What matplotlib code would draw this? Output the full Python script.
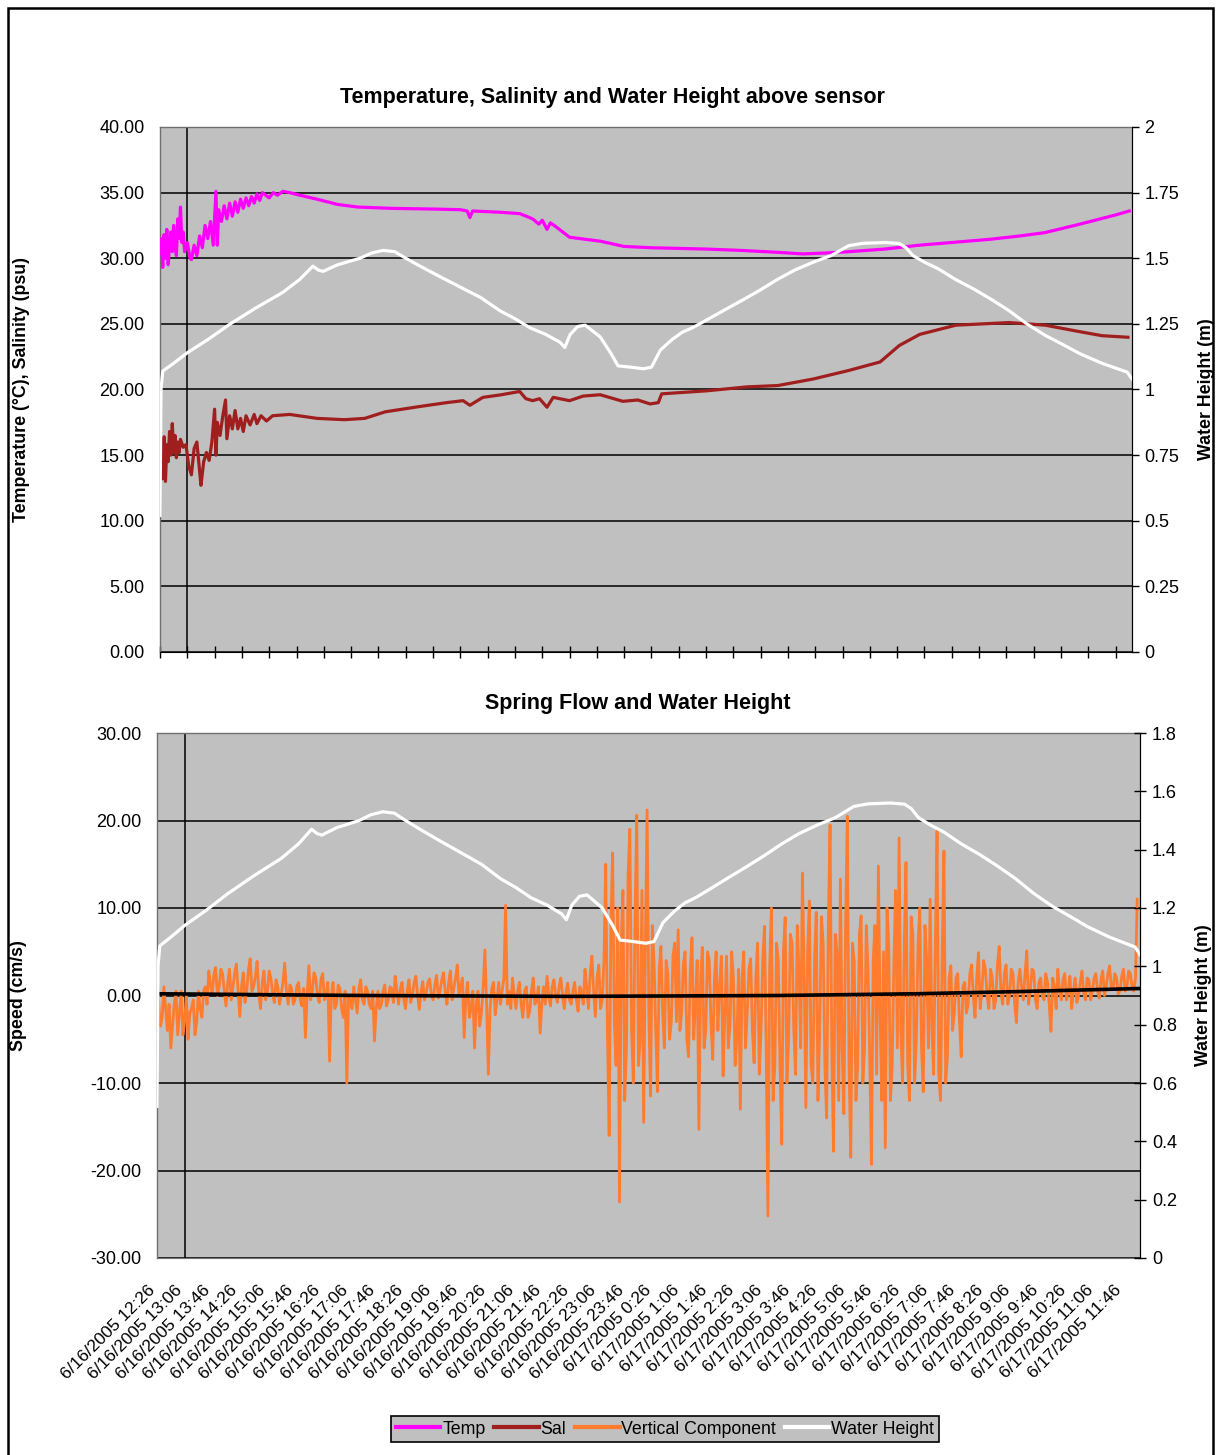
import numpy as np
import matplotlib
matplotlib.use('Agg')
from matplotlib import pyplot as plt
from matplotlib.lines import Line2D
from matplotlib.patches import Rectangle
from matplotlib.ticker import FuncFormatter, MultipleLocator
import matplotlib.transforms as mtrans

plt.rcParams['font.family'] = ['Liberation Sans', 'DejaVu Sans']

# x axis: minutes after 6/16/2005 12:26, labels every 40 minutes
tick_labels = [
    '6/16/2005 12:26', '6/16/2005 13:06', '6/16/2005 13:46', '6/16/2005 14:26',
    '6/16/2005 15:06', '6/16/2005 15:46', '6/16/2005 16:26', '6/16/2005 17:06',
    '6/16/2005 17:46', '6/16/2005 18:26', '6/16/2005 19:06', '6/16/2005 19:46',
    '6/16/2005 20:26', '6/16/2005 21:06', '6/16/2005 21:46', '6/16/2005 22:26',
    '6/16/2005 23:06', '6/16/2005 23:46', '6/17/2005 0:26', '6/17/2005 1:06',
    '6/17/2005 1:46', '6/17/2005 2:26', '6/17/2005 3:06', '6/17/2005 3:46',
    '6/17/2005 4:26', '6/17/2005 5:06', '6/17/2005 5:46', '6/17/2005 6:26',
    '6/17/2005 7:06', '6/17/2005 7:46', '6/17/2005 8:26', '6/17/2005 9:06',
    '6/17/2005 9:46', '6/17/2005 10:26', '6/17/2005 11:06', '6/17/2005 11:46',
]
tick_step = 40
t_end = 1424

# temperature (deg C)
temp_t = [0, 2, 4, 6, 8, 10, 12, 14, 16, 18, 20, 22, 24, 26, 28, 30, 32, 34, 36, 40,
          44, 46, 50, 54, 58, 62, 66, 70, 74, 78, 82, 84, 86, 90, 94, 98, 102, 106, 110, 114,
          118, 122, 126, 130, 134, 138, 142, 146, 150, 160, 166, 172, 180, 190, 205, 230, 260, 290, 340, 400,
          440, 450, 454, 458, 500, 527, 546, 555, 560, 567, 572, 580, 600, 645, 680, 720, 801, 850, 905, 942,
          975, 1009, 1062, 1113, 1160, 1217, 1260, 1296, 1340, 1374, 1400, 1420]
temp_v = [30.4, 31.5, 29.3, 31.8, 30.0, 32.2, 29.5, 31.0, 32.0, 30.5, 32.5, 31.0, 30.2, 33.0, 31.5, 33.9, 31.2, 32.0, 30.5, 31.2,
          30.0, 29.9, 31.0, 30.2, 31.7, 30.8, 32.5, 31.5, 32.8, 31.0, 35.1, 31.0, 33.7, 32.8, 34.0, 33.0, 34.2, 33.2, 34.3, 33.5,
          34.5, 33.8, 34.6, 34.0, 34.7, 34.2, 34.9, 34.4, 35.0, 34.6, 35.0, 34.8, 35.1, 35.0, 34.8, 34.5, 34.1, 33.9, 33.8, 33.75,
          33.7, 33.6, 33.1, 33.6, 33.5, 33.4, 33.0, 32.6, 32.9, 32.2, 32.7, 32.4, 31.6, 31.3, 30.9, 30.8, 30.7, 30.6, 30.45, 30.33,
          30.4, 30.5, 30.7, 31.0, 31.2, 31.45, 31.7, 31.95, 32.5, 32.95, 33.3, 33.6]

# salinity (psu)
sal_t = [0, 2, 4, 6, 8, 10, 12, 14, 16, 18, 20, 22, 24, 26, 28, 30, 34, 38, 42, 46,
         50, 54, 58, 60, 64, 68, 72, 76, 80, 82, 84, 88, 92, 96, 98, 102, 106, 110, 114, 118,
         122, 126, 132, 138, 142, 148, 156, 165, 190, 230, 270, 300, 330, 380, 420, 444, 454, 473, 500, 527,
         536, 546, 556, 567, 576, 600, 620, 645, 678, 700, 718, 730, 735, 801, 860, 905, 957, 1009, 1055, 1083,
         1113, 1166, 1244, 1297, 1348, 1380, 1418]
sal_v = [14.0, 16.0, 13.2, 16.4, 13.0, 15.8, 14.5, 16.8, 15.0, 17.4, 15.2, 16.5, 14.8, 16.0, 15.2, 16.2, 15.6, 15.8, 14.2, 13.5,
         15.5, 16.0, 13.8, 12.7, 14.5, 15.2, 14.6, 16.0, 18.5, 15.0, 17.5, 16.5, 18.0, 19.2, 16.25, 18.0, 17.0, 18.4, 17.0, 17.8,
         16.8, 18.0, 17.3, 18.1, 17.4, 18.0, 17.6, 18.0, 18.1, 17.8, 17.7, 17.8, 18.3, 18.7, 19.0, 19.15, 18.8, 19.4, 19.6, 19.85,
         19.3, 19.15, 19.3, 18.65, 19.4, 19.15, 19.5, 19.6, 19.1, 19.2, 18.9, 19.0, 19.67, 19.9, 20.2, 20.3, 20.8, 21.45, 22.1, 23.35,
         24.2, 24.9, 25.1, 24.9, 24.4, 24.1, 23.98]

# water height above sensor (m)
wh_t = [0, 1.5, 4, 20, 40, 70, 103, 140, 180, 205, 224, 232, 239, 260, 293, 310, 327, 344, 360, 381,
        410, 440, 470, 498, 520, 542, 565, 586, 593, 601, 612, 623, 645, 660, 671, 690, 708, 720, 733, 750,
        765, 780, 801, 825, 853, 880, 905, 930, 957, 983, 1009, 1030, 1062, 1083, 1093, 1103, 1120, 1140, 1165, 1192,
        1220, 1244, 1270, 1297, 1320, 1348, 1380, 1417, 1424]
wh_v = [0.52, 1.0, 1.07, 1.10, 1.14, 1.19, 1.25, 1.31, 1.37, 1.42, 1.47, 1.455, 1.45, 1.475, 1.50, 1.52, 1.53, 1.525, 1.50, 1.47,
        1.43, 1.39, 1.35, 1.30, 1.27, 1.235, 1.21, 1.18, 1.16, 1.21, 1.24, 1.245, 1.20, 1.14, 1.09, 1.085, 1.079, 1.085, 1.15, 1.19,
        1.218, 1.235, 1.265, 1.30, 1.34, 1.38, 1.42, 1.455, 1.485, 1.51, 1.548, 1.557, 1.56, 1.556, 1.54, 1.51, 1.485, 1.46, 1.42, 1.383,
        1.34, 1.30, 1.25, 1.206, 1.175, 1.136, 1.10, 1.066, 1.04]

# vertical flow component (cm/s): readings on the 5-minute marks ...
vel_step = 5
vel_v = [
    2.5, -3.5, 1.0, -4.0, -6.0, -1.0, -4.5, 0.5, -3.0, -5.0,
    -1.5, -4.5, 0.5, -2.5, 1.0, 2.8, 0.2, 3.2, 1.0, 2.5,
    -1.2, 3.0, 1.0, 3.6, -2.4, 2.6, 0.6, 4.2, 1.0, 3.9,
    -1.5, 2.8, 0.5, 2.0, -0.8, 1.0, 0.2, 3.7, -1.0, 0.8,
    -0.5, 1.5, -1.2, -4.8, 3.4, 0.5, 2.0, -0.8, 2.5, 0.0,
    -7.5, 1.5, -1.0, 0.8, -2.5, -10.0, -0.5, 1.0, -2.0, 1.8,
    -1.0, 0.5, -1.5, -5.2, 0.5, -1.0, 1.2, -0.5, 0.8, 2.2,
    -1.0, 1.5, -1.5, 1.8, 0.0, 2.2, -1.6, 1.6, 0.3, 1.9,
    -0.5, 2.3, 0.5, 2.6, -1.0, 2.8, 0.8, 3.5, 1.0, -4.8,
    1.5, -1.5, -6.0, 0.5, -2.0, 5.2, -9.0, 0.8, -2.2, 1.5,
    0.5, 10.3, 0.5, 2.0, -1.5, 1.5, -2.5, 1.0, -1.8, 2.0,
    -0.5, -4.3, 1.0, 2.2, -1.2, 1.8, -0.8, 2.0, -1.5, 1.4,
    -1.0, 1.5, -1.8, 0.5, 3.0, -1.5, 4.5, -2.4, 3.5, -0.5,
    15.0, -16.0, 16.3, -8.0, -23.6, 12.0, -6.0, 19.0, -10.0, 20.6,
    -5.0, -14.5, 21.2, -11.5, 4.0, -11.0, 5.6, -6.0, 2.5, -3.0,
    6.0, 7.5, -2.0, 5.0, -7.0, 6.6, -1.0, -15.3, 5.5, -4.0,
    4.0, -7.3, 5.0, 1.0, -9.2, 4.5, -3.5, 2.0, -5.0, -13.0,
    5.0, -2.0, 4.2, -7.7, 6.0, -4.0, 7.9, -25.2, 10.0, -8.0,
    4.0, -17.0, 8.9, -5.0, 6.0, -9.0, 3.0, 14.0, -12.8, 10.8,
    -10.0, 9.5, -4.0, 6.0, -14.0, 19.5, -17.8, 5.0, 13.3, -13.5,
    20.5, -18.5, 4.0, -8.0, 9.1, -6.0, 3.0, -19.3, 8.0, 14.8,
    -12.0, -17.4, 6.0, -8.0, 12.0, 18.0, -10.0, 15.2, -12.0, 7.0,
    -5.0, 10.0, -11.0, 4.0, 11.0, -9.0, 18.8, -12.0, 16.5, -7.0,
    3.4, -2.0, 2.5, -7.0, 1.5, -1.0, 3.5, -2.5, 4.9, 0.5,
    3.0, -1.5, 2.0, -0.5, 5.6, -1.0, 3.5, 0.0, 2.5, -3.1,
    3.0, -0.5, 5.1, 0.5, 2.8, -1.5, 2.0, -0.5, 1.5, -4.1,
    1.0, 3.0, -0.5, 2.5, 0.5, -1.5, 2.0, 0.0, 2.8, -0.5,
    1.8, 0.5, 2.5, -0.3, 2.8, 1.0, 3.4, 0.8, 2.0, 0.5,
    3.0, 1.0, 2.5, 0.5, 11.0,
]
# ... and the readings half way between them
vel_mid = [
    -1.0, -2.5, -1.5, -1.0, -3.5, 0.5, -2.0, -4.5, 0.0, -2.0,
    -0.5, -3.0, -1.5, 0.5, -1.0, 1.2, 2.5, 0.0, 3.0, 0.5,
    1.5, -0.5, 2.5, 0.5, 1.0, -0.8, 3.0, 0.5, 2.2, 0.2,
    1.5, -0.5, 2.8, 0.2, 1.8, -1.0, 1.5, 0.5, 1.2, -1.0,
    1.0, -0.5, 0.8, 0.0, -0.5, 2.6, 0.0, 1.8, -0.5, 1.5,
    0.0, -1.5, 1.2, -1.5, 0.5, 0.0, -1.5, -0.5, 0.8, -0.5,
    1.0, -1.0, 0.5, -1.5, -1.5, 0.5, -1.2, 1.0, -0.8, 0.5,
    0.8, -0.5, 0.5, -0.8, 1.5, 0.0, 0.5, -0.5, 1.5, 0.0,
    1.2, -0.3, 1.8, 0.5, 1.5, -0.5, 2.0, 0.0, 2.0, 0.0,
    -2.5, 0.5, -1.0, -3.5, 1.0, -1.0, -1.5, 1.5, -0.5, -1.0,
    2.0, -1.0, -1.5, 0.0, 0.5, -1.0, 0.5, -2.5, 0.5, -1.0,
    1.0, -1.0, -1.0, 0.0, 1.0, 0.0, 1.0, 0.0, 0.5, -0.5,
    0.5, -0.5, 1.0, -1.0, 1.0, 2.5, 0.5, 2.0, -1.5, 4.0,
    -4.0, 8.0, -3.0, 10.0, 6.0, -12.0, 14.0, -4.0, 9.0, -8.0,
    12.0, 6.0, -2.0, 8.0, -4.0, 3.0, -2.0, 4.0, -5.0, 4.5,
    -3.0, -4.0, 3.5, -5.0, 3.0, -5.0, 4.0, 2.0, -6.0, 5.0,
    -3.0, 2.0, -4.0, 4.5, -2.0, -6.0, 5.0, -8.0, 3.0, 2.0,
    -6.0, 3.0, -4.0, 2.0, -9.0, 4.0, -6.0, 3.0, -12.0, 6.0,
    -8.0, 5.0, -10.0, 7.0, -4.0, 8.0, -6.0, 2.0, 5.0, -8.0,
    4.0, -12.0, 9.0, -8.0, 8.0, -6.0, 7.0, -12.0, -6.0, 8.0,
    -8.0, 6.0, -12.0, 7.0, -10.0, 8.0, -7.0, 4.0, -9.0, -2.0,
    5.0, 10.0, -12.0, 4.0, -6.0, -4.0, 6.0, -8.0, 9.0, -10.0,
    6.0, -6.0, 8.0, -6.0, -4.0, 6.0, -9.0, 5.0, -10.0, 2.0,
    -4.0, 2.0, -3.0, 1.0, -2.0, 2.5, 0.0, 2.0, -1.5, 4.0,
    0.0, 3.0, -1.5, 3.5, 0.5, 2.5, -1.0, 3.0, -1.0, 1.5,
    1.0, 2.5, -1.0, 3.0, -0.5, 1.5, 0.0, 2.5, -1.0, 2.0,
    -1.5, 0.5, 1.8, -0.5, 2.2, 0.5, -0.8, 1.5, 0.2, 2.0,
    -0.5, 2.0, 0.5, 1.8, 0.0, 2.5, 0.8, 2.5, 0.2, 2.2,
    0.5, 2.8, 1.0, 2.0,
]

# black trend line through the flow data
trend_t = [0, 300, 600, 900, 1100, 1250, 1424]
trend_v = [0.2, 0.0, -0.1, 0.0, 0.2, 0.45, 0.8]

TEMP_C = '#FF00FF'
SAL_C = '#A01E1E'
VEL_C = '#FF7B2E'
WH_C = '#FFFFFF'
PLOT_BG = '#C0C0C0'

W, H = 1219, 1455
fig = plt.figure(figsize=(W / 100, H / 100), dpi=100)
fig.patch.set_facecolor('white')
fig.patches.append(Rectangle((8 / W, -0.01), (1213 - 8) / W, 1 - 8 / H + 0.01, transform=fig.transFigure,
                             fill=False, edgecolor='black', linewidth=1.8))

ax1 = fig.add_axes([160 / W, 1 - 652 / H, 972 / W, 525 / H])
ax3 = fig.add_axes([157 / W, 1 - 1258 / H, 983 / W, 525 / H])

tick_pos = [i * tick_step for i in range(len(tick_labels))]

for ax in (ax1, ax3):
    ax.set_facecolor(PLOT_BG)
    ax.set_xlim(0, t_end)
    ax.set_xticks(tick_pos)
    ax.yaxis.grid(True, color='black', linewidth=1.1)
    ax.set_axisbelow(True)
    ax.axvline(tick_step, color='black', linewidth=1.1, zorder=1.5)
    for s in ('top', 'left'):
        ax.spines[s].set_color('#707070')
        ax.spines[s].set_linewidth(1)
    ax.spines['right'].set_color('black')
    ax.tick_params(axis='y', length=0, pad=11, labelsize=13)
    ax.yaxis.set_major_formatter(FuncFormatter(lambda v, p: '%.2f' % v))

# --- top chart
ax1.set_ylim(0, 40)
ax1.yaxis.set_major_locator(MultipleLocator(5))
ax1.plot(temp_t, temp_v, color=TEMP_C, linewidth=2.3, zorder=3)
ax1.plot(sal_t, sal_v, color=SAL_C, linewidth=2.3, zorder=3)
ax1.set_xticklabels([])
ax1.tick_params(axis='x', direction='inout', length=8, width=1)
ax1.spines['bottom'].set_color('black')
ax1.set_ylabel('Temperature (°C), Salinity (psu)', fontsize=12.8, fontweight='bold')
ax1.yaxis.set_label_coords((30 - 160) / 972, 0.5)
ax1.set_title('Temperature, Salinity and Water Height above sensor', fontsize=15.5, fontweight='bold',
              x=(612 - 160) / 972, pad=17)

ax2 = ax1.twinx()
ax2.set_ylim(0, 2)
ax2.yaxis.set_major_locator(MultipleLocator(0.25))
ax2.yaxis.set_major_formatter(FuncFormatter(lambda v, p: '%g' % v))
ax2.plot(wh_t, wh_v, color=WH_C, linewidth=2.3)
ax2.tick_params(axis='y', direction='out', length=5, width=1, pad=4, labelsize=13)
ax2.set_ylabel('Water Height (m)', fontsize=12.8, fontweight='bold')
ax2.yaxis.set_label_coords((1198 - 160) / 972, 0.5)
for s in ('top', 'left', 'bottom'):
    ax2.spines[s].set_visible(False)

# --- bottom chart
vel_t = [i * vel_step for i in range(len(vel_v))] + [(i + 0.5) * vel_step for i in range(len(vel_mid))]
order = np.argsort(vel_t)
vel_t = np.array(vel_t)[order]
vel_all = np.array(vel_v + vel_mid)[order]
ax3.set_ylim(-30, 30)
ax3.yaxis.set_major_locator(MultipleLocator(10))
ax3.plot(vel_t, vel_all, color=VEL_C, linewidth=2.0, zorder=3)
ax3.plot(trend_t, trend_v, color='black', linewidth=2.6, zorder=4)
ax3.tick_params(axis='x', length=0, pad=2)
ax3.spines['bottom'].set_color('#707070')
ax3.set_xticklabels(tick_labels, rotation=45, ha='right', va='top', rotation_mode='anchor',
                    fontsize=12.5)
off = mtrans.ScaledTranslation(-10 / 100, -22 / 100, fig.dpi_scale_trans)
for lab in ax3.get_xticklabels():
    lab.set_transform(lab.get_transform() + off)
ax3.set_ylabel('Speed (cm/s)', fontsize=12.8, fontweight='bold')
ax3.yaxis.set_label_coords((27 - 157) / 983, 0.5)
ax3.set_title('Spring Flow and Water Height', fontsize=15.5, fontweight='bold',
              x=(638 - 157) / 983, pad=17)

ax4 = ax3.twinx()
ax4.set_ylim(0, 1.8)
ax4.yaxis.set_major_locator(MultipleLocator(0.2))
ax4.yaxis.set_major_formatter(FuncFormatter(lambda v, p: '%g' % v))
ax4.plot(wh_t, wh_v, color=WH_C, linewidth=2.3)
ax4.tick_params(axis='y', direction='inout', length=9, width=1, pad=4, labelsize=13)
ax4.set_ylabel('Water Height (m)', fontsize=12.8, fontweight='bold')
ax4.yaxis.set_label_coords((1195 - 157) / 983, 0.5)
for s in ('top', 'left', 'bottom'):
    ax4.spines[s].set_visible(False)

handles = [Line2D([], [], color=TEMP_C, linewidth=3),
           Line2D([], [], color=SAL_C, linewidth=3),
           Line2D([], [], color=VEL_C, linewidth=3),
           Line2D([], [], color=WH_C, linewidth=3)]
leg = fig.legend(handles, ['Temp', 'Sal', 'Vertical Component', 'Water Height'],
                 loc='center', bbox_to_anchor=(665 / W, 1 - 1429 / H), ncol=4, fontsize=12.8,
                 facecolor=PLOT_BG, edgecolor='black', framealpha=1, fancybox=False,
                 handlelength=2.5, handletextpad=0.1, columnspacing=0.5, borderpad=0.25)
leg.get_frame().set_linewidth(1.2)

fig.savefig('out.png', dpi=100)
